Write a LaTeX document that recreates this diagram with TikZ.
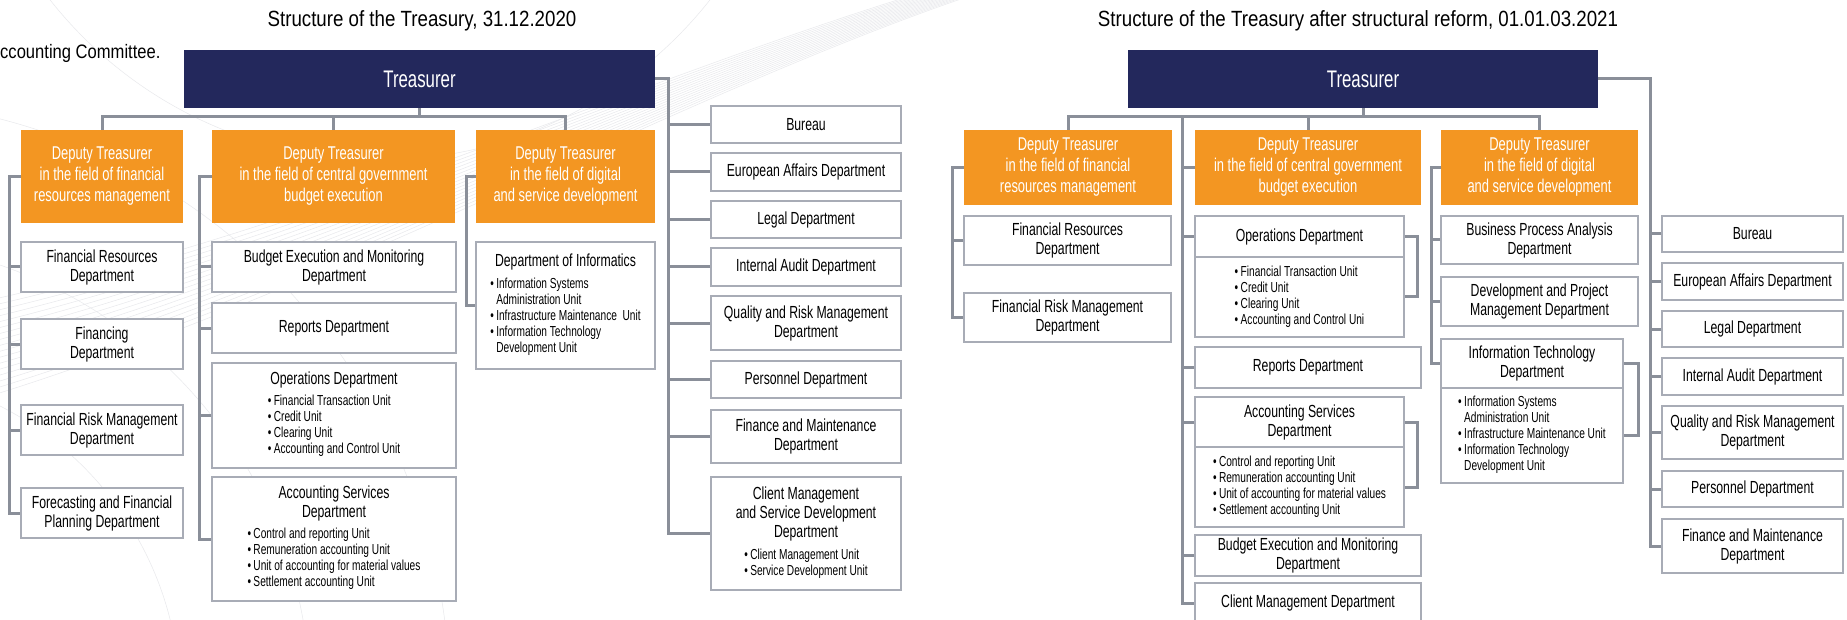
\documentclass[tikz,border=0pt]{standalone}
\usepackage{fontspec}
\setmainfont[FakeStretch=0.70]{Liberation Sans}
\newfontfamily\titlefont[FakeStretch=0.85]{Liberation Sans}
\usepackage{tikz}

\definecolor{navy}{RGB}{35,40,92}
\definecolor{deporange}{RGB}{243,150,34}
\definecolor{linkgray}{RGB}{138,143,153}
\definecolor{boxgray}{RGB}{168,172,182}
\definecolor{bggray}{RGB}{232,233,236}

\newcommand{\fsz}[2]{\fontsize{#1}{#2}\selectfont}
\newcommand{\bul}{\textbullet\,}
\newcommand{\hang}{\phantom{\textbullet\,}}
\newcommand{\units}[1]{{\fsz{14.5}{16}\begin{tabular}[t]{@{}l@{}}#1\end{tabular}}}

\tikzset{
  boss/.style={fill=navy, text=white, inner sep=0, font=\fsz{24}{28}},
  deputy/.style={fill=deporange, text=white, align=center, inner sep=0, font=\fsz{18.5}{21}},
  dept/.style={draw=boxgray, line width=1.5pt, fill=white, align=center, inner sep=0, font=\fsz{17.5}{19}},
  link/.style={draw=linkgray, line width=3pt},
  bgline/.style={draw=bggray, line width=0.5pt},
  heading/.style={inner sep=0, font=\titlefont\fsz{22}{26}},
}

\begin{document}
\begin{tikzpicture}[line join=miter, x=1pt, y=-1pt]
\useasboundingbox (0,0) rectangle (1847,620);
\fill[white] (0,0) rectangle (1847,620);

% background
\foreach \k in {0,...,16}
  \draw[bgline] (-10,300+6*\k) .. controls (350,220+4*\k) and (700,50+2*\k) .. (1000,-30+\k);
\draw[bgline] (-150,700) circle (330);
\draw[bgline] (-150,700) circle (460);
\draw[bgline] (-150,700) circle (600);
\draw[bgline] (380,-260) circle (420);

\node[heading] (titleA) at (422,21) {Structure of the Treasury, 31.12.2020};
\node[heading] (titleB) at (1358,21) {Structure of the Treasury after structural reform, 01.01.03.2021};
\node[inner sep=0, anchor=west, font=\titlefont\fsz{19.5}{24}] (note) at (0,53) {ccounting Committee.};

% ---------------- 31.12.2020 ----------------
\node[boss, minimum width=471, minimum height=58] (treasA) at (419.5,79) {Treasurer};

\node[deputy, minimum width=162, minimum height=93] (depA1) at (102,176.5) {Deputy Treasurer\\in the field of financial\\resources management};
\node[deputy, minimum width=243, minimum height=93] (depA2) at (333.5,176.5) {Deputy Treasurer\\in the field of central government\\budget execution};
\node[deputy, minimum width=179, minimum height=93] (depA3) at (565.5,176.5) {Deputy Treasurer\\in the field of digital\\and service development};

\node[dept, minimum width=162, minimum height=50] (finresA) at (102,267) {Financial Resources\\Department};
\node[dept, minimum width=162, minimum height=50] (financingA) at (102,344) {Financing\\Department};
\node[dept, minimum width=162, minimum height=50] (finriskA) at (102,430) {Financial Risk Management\\Department};
\node[dept, minimum width=162, minimum height=50] (forecastA) at (102,513) {Forecasting and Financial\\Planning Department};

\node[dept, minimum width=244, minimum height=50] (budgetA) at (334,267) {Budget Execution and Monitoring\\Department};
\node[dept, minimum width=244, minimum height=50] (reportsA) at (334,328) {Reports Department};
\node[dept, minimum width=244, minimum height=105] (opsA) at (334,415.5) {Operations Department\\[2pt]\units{\bul Financial Transaction Unit\\ \bul Credit Unit\\ \bul Clearing Unit\\ \bul Accounting and Control Unit}};
\node[dept, minimum width=244, minimum height=124] (acctA) at (334,539) {Accounting Services\\Department\\[2pt]\units{\bul Control and reporting Unit\\ \bul Remuneration accounting Unit\\ \bul Unit of accounting for material values\\ \bul Settlement accounting Unit}};

\node[dept, minimum width=179, minimum height=127] (infoA) at (565.5,305.5) {Department of Informatics\\[3pt]\units{\bul Information Systems\\ \hang Administration Unit\\ \bul Infrastructure Maintenance~ Unit\\ \bul Information Technology\\ \hang Development Unit}};

\node[dept, minimum width=190, minimum height=37] (bureauA) at (806,124.5) {Bureau};
\node[dept, minimum width=190, minimum height=38] (euroA) at (806,172) {European Affairs Department};
\node[dept, minimum width=190, minimum height=37] (legalA) at (806,219.5) {Legal Department};
\node[dept, minimum width=190, minimum height=38] (auditA) at (806,267) {Internal Audit Department};
\node[dept, minimum width=190, minimum height=54] (qualityA) at (806,323) {Quality and Risk Management\\Department};
\node[dept, minimum width=190, minimum height=37] (personnelA) at (806,379.5) {Personnel Department};
\node[dept, minimum width=190, minimum height=53] (financeA) at (806,436.5) {Finance and Maintenance\\Department};
\node[dept, minimum width=190, minimum height=113] (clientA) at (806,533.5) {Client Management\\and Service Development\\Department\\[3pt]\units{\bul Client Management Unit\\ \bul Service Development Unit}};

\draw[link] (treasA.south) -- ++(0,9);
\draw[link] (depA1.north) -- ++(0,-13) -| (depA3.north);
\draw[link] (depA2.north) -- ++(0,-13);
\draw[link] (depA1.west) -- ++(-11,0) |- (forecastA.west);
\foreach \n in {finresA,financingA,finriskA}
  \draw[link] (\n.west) -- ++(-11,0);
\draw[link] (depA2.west) -- ++(-12,0) |- (acctA.west);
\foreach \n in {budgetA,reportsA,opsA}
  \draw[link] (\n.west) -- ++(-12,0);
\draw[link] (depA3.west) -- ++(-9,0) |- (infoA.west);
\draw[link] (treasA.east) -- ++(13,0) |- (clientA.west);
\foreach \n in {bureauA,euroA,legalA,auditA,qualityA,personnelA,financeA}
  \draw[link] (\n.west) -- ++(-43,0);

% ---------------- after the reform ----------------
\node[boss, minimum width=470, minimum height=58] (treasB) at (1363,79) {Treasurer};

\node[deputy, minimum width=208, minimum height=75] (depB1) at (1068,167.5) {Deputy Treasurer\\in the field of financial\\resources management};
\node[deputy, minimum width=226, minimum height=75] (depB2) at (1308,167.5) {Deputy Treasurer\\in the field of central government\\budget execution};
\node[deputy, minimum width=197, minimum height=75] (depB3) at (1539.5,167.5) {Deputy Treasurer\\in the field of digital\\and service development};

\node[dept, minimum width=207, minimum height=49] (finresB) at (1067.5,240.5) {Financial Resources\\Department};
\node[dept, minimum width=207, minimum height=49] (finriskB) at (1067.5,317.5) {Financial Risk Management\\Department};

\node[dept, minimum width=209, minimum height=41] (opsBhead) at (1299.5,236.5) {Operations Department};
\node[dept, minimum width=209, minimum height=80] (opsBbody) at (1299.5,297) {\units{\bul Financial Transaction Unit\\ \bul Credit Unit\\ \bul Clearing Unit\\ \bul Accounting and Control Uni}};
\node[dept, minimum width=226, minimum height=41] (reportsB) at (1308,367.5) {Reports Department};
\node[dept, minimum width=209, minimum height=50] (acctBhead) at (1299.5,422) {Accounting Services\\Department};
\node[dept, minimum width=209, minimum height=80] (acctBbody) at (1299.5,487) {\units{\bul Control and reporting Unit\\ \bul Remuneration accounting Unit\\ \bul Unit of accounting for material values\\ \bul Settlement accounting Unit}};
\node[dept, minimum width=226, minimum height=41] (budgetB) at (1308,555.5) {Budget Execution and Monitoring\\Department};
\node[dept, minimum width=226, minimum height=40] (clientB) at (1308,603) {Client Management Department};

\node[dept, minimum width=197, minimum height=48] (bpaB) at (1539.5,240) {Business Process Analysis\\Department};
\node[dept, minimum width=197, minimum height=49] (devB) at (1539.5,301.5) {Development and Project\\Management Department};
\node[dept, minimum width=182, minimum height=49] (itBhead) at (1532,363.5) {Information Technology\\Department};
\node[dept, minimum width=182, minimum height=95] (itBbody) at (1532,435.5) {\units{\bul Information Systems\\ \hang Administration Unit\\ \bul Infrastructure Maintenance Unit\\ \bul Information Technology\\ \hang Development Unit}};

\node[dept, minimum width=181, minimum height=36] (bureauB) at (1752.5,234) {Bureau};
\node[dept, minimum width=181, minimum height=37] (euroB) at (1752.5,281.5) {European Affairs Department};
\node[dept, minimum width=181, minimum height=36] (legalB) at (1752.5,329) {Legal Department};
\node[dept, minimum width=181, minimum height=37] (auditB) at (1752.5,376.5) {Internal Audit Department};
\node[dept, minimum width=181, minimum height=53] (qualityB) at (1752.5,432.5) {Quality and Risk Management\\Department};
\node[dept, minimum width=181, minimum height=36] (personnelB) at (1752.5,489) {Personnel Department};
\node[dept, minimum width=181, minimum height=54] (financeB) at (1752.5,546) {Finance and Maintenance\\Department};

\coordinate (spineB) at (1182,117);
\draw[link] (treasB.south) -- ++(0,9);
\draw[link] (depB1.north) -- ++(0,-13) -| (depB3.north);
\draw[link] (depB2.north) -- ++(0,-13);
\draw[link] (depB1.west) -- ++(-11,0) |- (finriskB.west);
\draw[link] (finresB.west) -- ++(-11,0);
\draw[link] (spineB) |- (clientB.west);
\foreach \n in {depB2,opsBhead,reportsB,acctBhead,budgetB}
  \draw[link] (\n.west) -- ++(-13,0);
\draw[link] (depB3.west) -- ++(-9,0) |- (itBhead.west);
\foreach \n in {bpaB,devB}
  \draw[link] (\n.west) -- ++(-9,0);
\draw[link] (opsBhead.east) -- ++(13,0) |- (opsBbody.east);
\draw[link] (acctBhead.east) -- ++(13,0) |- (acctBbody.east);
\draw[link] (itBhead.east) -- ++(15,0) |- (itBbody.east);
\draw[link] (treasB.east) -- ++(52,0) |- (financeB.west);
\foreach \n in {bureauB,euroB,legalB,auditB,qualityB,personnelB}
  \draw[link] (\n.west) -- ++(-12,0);
\end{tikzpicture}
\end{document}
